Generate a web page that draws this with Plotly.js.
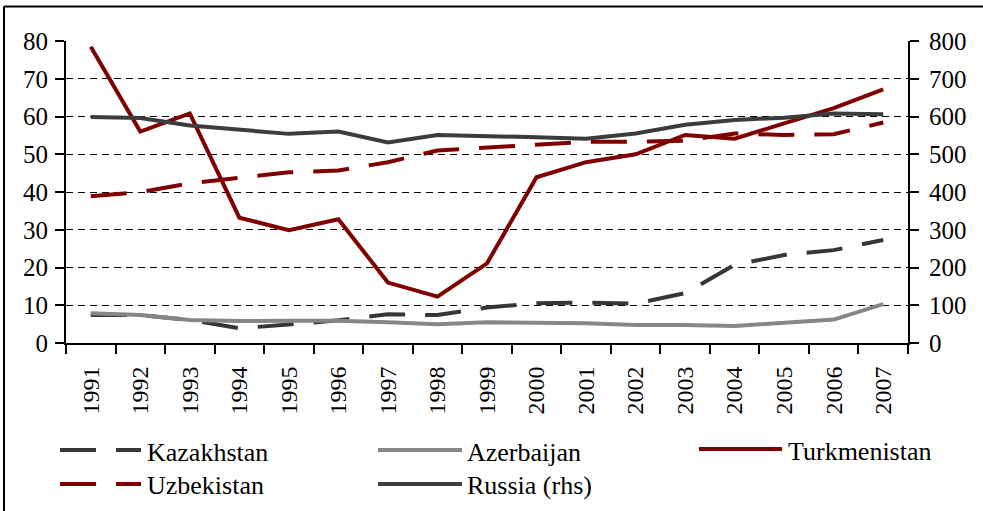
<!DOCTYPE html>
<html>
<head>
<meta charset="utf-8">
<script src="https://cdn.plot.ly/plotly-3.0.1.min.js"></script>
<style>
  html, body { margin: 0; padding: 0; background: #fff; }
  #chart { width: 983px; height: 511px; }
</style>
</head>
<body>
<div id="chart"></div>
<script>
const years = ["1991","1992","1993","1994","1995","1996","1997","1998","1999","2000","2001","2002","2003","2004","2005","2006","2007"];
const kazakhstan   = [7.4, 7.4, 6.1, 3.9, 4.9, 6.0, 7.6, 7.4, 9.4, 10.5, 10.7, 10.4, 13.2, 20.7, 23.3, 24.6, 27.3];
const azerbaijan   = [7.9, 7.4, 6.1, 5.8, 5.9, 5.9, 5.5, 5.0, 5.5, 5.4, 5.2, 4.8, 4.8, 4.5, 5.3, 6.2, 10.3];
const turkmenistan = [78.5, 56.0, 60.8, 33.2, 29.9, 32.8, 16.0, 12.3, 21.1, 43.9, 47.9, 50.0, 55.1, 54.1, 58.2, 62.2, 67.2];
const uzbekistan   = [38.9, 40.0, 42.3, 43.8, 45.2, 45.7, 47.9, 51.0, 51.8, 52.6, 53.3, 53.3, 53.6, 55.5, 55.1, 55.3, 58.4];
const russia       = [599, 596, 576, 566, 554, 560, 531, 551, 549, 545, 541, 555, 578, 591, 597, 608, 606];

const seriesNames = ["Kazakhstan", "Azerbaijan", "Turkmenistan", "Uzbekistan", "Russia (rhs)"];

const FONT = "Liberation Serif";
const DARK = "#363636", GREY = "#868686", RED = "#800000", RUS = "#3c3c3c";
const DASH = "36px,20px";

const traces = [
  {x: years, y: kazakhstan,   name: seriesNames[0], mode: "lines", line: {color: DARK, width: 4, dash: DASH}},
  {x: years, y: azerbaijan,   name: seriesNames[1], mode: "lines", line: {color: GREY, width: 4}},
  {x: years, y: turkmenistan, name: seriesNames[2], mode: "lines", line: {color: RED, width: 4}},
  {x: years, y: uzbekistan,   name: seriesNames[3], mode: "lines", line: {color: RED, width: 4, dash: DASH}},
  {x: years, y: russia,       name: seriesNames[4], mode: "lines", yaxis: "y2", line: {color: RUS, width: 4}}
];

// plot-area geometry helpers for the hand-drawn legend (pixel -> paper)
const L = 66, R = 908, T = 41, B = 343;
const px = v => (v - L) / (R - L);
const py = v => (B - v) / (B - T);

const legendItems = [
  {name: seriesNames[0], color: DARK, dash: DASH, x0: 60,  x1: 141, y: 450, tx: 145},
  {name: seriesNames[1], color: GREY, dash: "solid", x0: 378, x1: 462, y: 450, tx: 465},
  {name: seriesNames[2], color: RED,  dash: "solid", x0: 699, x1: 782, y: 449, tx: 786},
  {name: seriesNames[3], color: RED,  dash: DASH, x0: 60,  x1: 141, y: 484, tx: 145},
  {name: seriesNames[4], color: RUS,  dash: "solid", x0: 378, x1: 462, y: 484, tx: 465}
];

const shapes = [
  {type: "line", xref: "paper", yref: "paper", x0: px(4), x1: px(990), y0: py(6.5), y1: py(6.5), line: {color: "#000", width: 2}},
  {type: "line", xref: "paper", yref: "paper", x0: px(4), x1: px(4), y0: py(6.5), y1: py(520), line: {color: "#000", width: 2}}
];
const annotations = [];
legendItems.forEach(it => {
  shapes.push({type: "line", xref: "paper", yref: "paper", x0: px(it.x0), x1: px(it.x1), y0: py(it.y), y1: py(it.y),
               line: {color: it.color, width: 4, dash: it.dash}});
  annotations.push({xref: "paper", yref: "paper", x: px(it.tx), y: py(it.y + 2), xanchor: "left", yanchor: "middle",
                    text: it.name, showarrow: false, font: {family: FONT, size: 26, color: "#000"}});
});

const xFont = {family: FONT, size: 24, color: "#000"};
const yFont = {family: FONT, size: 25, color: "#000"};
const layout = {
  width: 983, height: 511,
  margin: {l: L, r: 983 - R, t: T, b: 511 - B, pad: 0},
  paper_bgcolor: "#fff", plot_bgcolor: "#fff",
  showlegend: false,
  xaxis: {
    type: "category", tickson: "boundaries", ticks: "outside", ticklen: 9, tickwidth: 2, tickcolor: "#000",
    tickangle: -90, showgrid: false, showline: true, linecolor: "#000", linewidth: 2,
    tickfont: xFont, ticklabelstandoff: 12, range: [-0.5, 16.5], zeroline: false
  },
  yaxis: {
    range: [0, 80], dtick: 10, tick0: 0, ticks: "outside", ticklen: 9, tickwidth: 2, tickcolor: "#000",
    showline: true, linecolor: "#000", linewidth: 2, zeroline: false,
    showgrid: true, gridcolor: "#000", gridwidth: 1, griddash: "7px,5px",
    tickfont: yFont, ticklabelstandoff: 2
  },
  yaxis2: {
    range: [0, 800], dtick: 100, tick0: 0, overlaying: "y", side: "right",
    ticks: "outside", ticklen: 9, tickwidth: 2, tickcolor: "#000",
    showline: true, linecolor: "#000", linewidth: 2, zeroline: false, showgrid: false,
    tickfont: yFont, ticklabelstandoff: 5
  },
  shapes: shapes,
  annotations: annotations
};

Plotly.newPlot("chart", traces, layout, {displayModeBar: false, staticPlot: true});
</script>
</body>
</html>
